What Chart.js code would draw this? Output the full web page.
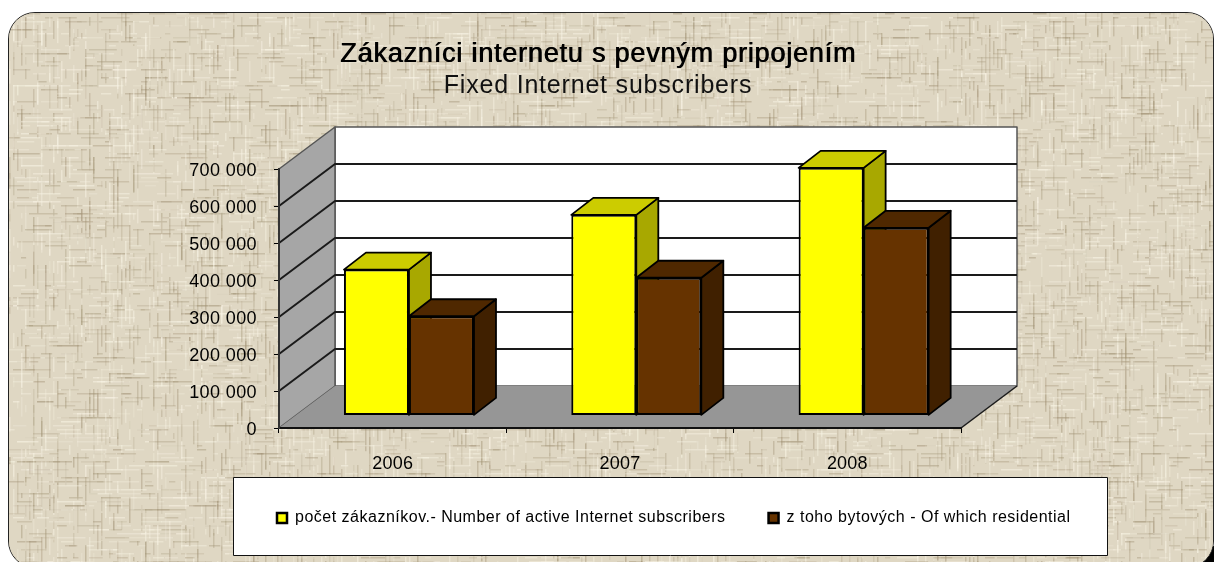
<!DOCTYPE html>
<html>
<head>
<meta charset="utf-8">
<title>Fixed Internet subscribers</title>
<script src="https://cdn.jsdelivr.net/npm/chart.js@4"></script>
<style>
html, body { margin: 0; padding: 0; background: #fff; overflow: hidden; }
#wrap { position: relative; width: 1214px; height: 562px; overflow: hidden; }
#corner { position: absolute; right: 0; bottom: 0; width: 16px; height: 16px; background: #000; }
#frame {
    position: absolute; left: 8px; top: 12px; width: 1206px; height: 556px;
    box-sizing: border-box; border: 1.5px solid #222; border-radius: 27px;
    background-color: #ddd4be; overflow: hidden;
}
#linen { position: absolute; left: 0; top: 0; filter: blur(0.7px); }
#chart { position: absolute; left: 0; top: 0; }
</style>
</head>
<body>
<div id="wrap">
    <div id="corner"></div>
    <div id="frame"><canvas id="linen" width="1206" height="556"></canvas></div>
    <canvas id="chart" width="1214" height="562"></canvas>
</div>
<script>
// ===== Data =====
const years = ['2006', '2007', '2008'];
const subscribers = [394000, 542000, 669000];
const residential = [268000, 372000, 507000];
const seriesNames = [
    'počet zákazníkov.- Number of active Internet subscribers',
    'z toho bytových - Of which residential',
];

const colors = {
    yellow: '#FFFF00', yellowTop: '#CCCC00', yellowSide: '#A8A800',
    brown: '#663300', brownTop: '#4F2800', brownSide: '#402000',
    wall: '#A6A6A6', floor: '#969696', edge: '#555555', line: '#1a1a1a',
};
const font = "'Liberation Sans', Arial, sans-serif";

// depth of the whole box and of one bar, in pixels
const boxDepth = { x: 56, y: -42 };
const barDepth = { x: 22, y: -17 };
const barShift = { x: 16.3, y: -12.6 };

// woven linen background, only decoration
function paintLinen() {
    const c = document.getElementById('linen');
    const g = c.getContext('2d');
    g.fillStyle = '#dfd7c3';
    g.fillRect(0, 0, c.width, c.height);
    let seed = 7;
    const next = () => (seed = (seed * 16807) % 2147483647) / 2147483647;
    for (let i = 0; i < 11000; i++) {
        const light = next() > 0.5;
        g.fillStyle = light
            ? `rgba(248,243,228,${0.2 + next() * 0.35})`
            : `rgba(160,145,115,${0.14 + next() * 0.3})`;
        const x = Math.floor(next() * 302) * 4, y = Math.floor(next() * 139) * 4;
        const len = 5 + next() * 24;
        if (next() > 0.5) g.fillRect(x, y, len, 1.5);
        else g.fillRect(x, y, 1.5, len);
    }
}
paintLinen();

function poly(ctx, pts, fill, stroke, width) {
    ctx.beginPath();
    pts.forEach((p, i) => i ? ctx.lineTo(p[0], p[1]) : ctx.moveTo(p[0], p[1]));
    ctx.closePath();
    if (fill) { ctx.fillStyle = fill; ctx.fill(); }
    if (stroke) { ctx.strokeStyle = stroke; ctx.lineWidth = width; ctx.lineJoin = 'round'; ctx.stroke(); }
}

// the reference text runs a bit wide, so let a draw call use letter spacing
function spaced(obj, method, px, bold) {
    const orig = obj[method];
    obj[method] = function (...args) {
        const c = this.ctx;
        c.save();
        c.letterSpacing = px + 'px';
        if (bold) { c.shadowColor = '#000'; c.shadowOffsetX = bold; }
        orig.apply(this, args);
        c.restore();
    };
}

// walls, floor and the grid that bends round the left wall
let wrapped = false;
const box3d = {
    id: 'box3d',
    afterLayout(chart) {
        chart.boxes.forEach(b => {
            if (b === chart.legend) {
                b.left = 234; b.right = 1200; b.top = 467;
            } else if (b.options && b.options.text) {
                b.left = 0; b.right = 1196;
            }
        });
        if (wrapped) return;
        wrapped = true;
        chart.boxes.forEach(b => {
            if (b === chart.legend) spaced(b, 'draw', 0.5);
            else if (b === chart.titleBlock) spaced(b, 'draw', 0.8, 0.8);
            else if (b.options && b.options.text) spaced(b, 'draw', 0.8);
        });
        spaced(chart.scales.y, 'drawLabels', 0.4);
        spaced(chart.scales.x, 'drawLabels', 0.2);
    },
    beforeDraw(chart) {
        const { ctx, chartArea: a, scales: { y } } = chart;
        const dx = boxDepth.x, dy = boxDepth.y;
        const y0 = y.getPixelForValue(0), yTop = y.getPixelForValue(y.max);
        ctx.save();
        poly(ctx, [[a.left + dx, yTop + dy], [a.right + dx, yTop + dy], [a.right + dx, y0 + dy], [a.left + dx, y0 + dy]], '#fff', colors.edge, 1.5);
        poly(ctx, [[a.left, yTop], [a.left + dx, yTop + dy], [a.left + dx, y0 + dy], [a.left, y0]], colors.wall, colors.edge, 1.5);
        poly(ctx, [[a.left, y0], [a.left + dx, y0 + dy], [a.right + dx, y0 + dy], [a.right, y0]], colors.floor);
        y.ticks.forEach(t => {
            if (t.value === 0 || t.value === y.max) return;
            const py = y.getPixelForValue(t.value);
            ctx.beginPath();
            ctx.moveTo(a.left, py);
            ctx.lineTo(a.left + dx, py + dy);
            ctx.lineTo(a.right + dx, py + dy);
            ctx.strokeStyle = colors.line;
            ctx.lineWidth = 2;
            ctx.stroke();
        });
        ctx.beginPath();
        ctx.moveTo(a.right, y0);
        ctx.lineTo(a.right + dx, y0 + dy);
        ctx.strokeStyle = colors.line;
        ctx.lineWidth = 1.5;
        ctx.stroke();

        // legend panel
        ctx.fillStyle = '#fff';
        ctx.strokeStyle = '#111';
        ctx.lineWidth = 1;
        ctx.fillRect(233.5, 477.5, 874, 78);
        ctx.strokeRect(233.5, 477.5, 874, 78);
        ctx.restore();
    },
    beforeDatasetsDraw(chart) {
        const { ctx } = chart;
        const tops = [colors.yellowTop, colors.brownTop];
        const sides = [colors.yellowSide, colors.brownSide];
        ctx.save();
        ctx.translate(barShift.x, barShift.y);
        [0, 1].forEach(ds => {
            chart.getDatasetMeta(ds).data.forEach(bar => {
                const l = bar.x - bar.width / 2, r = bar.x + bar.width / 2;
                const t = bar.y, b = bar.base;
                const dx = barDepth.x, dy = barDepth.y;
                poly(ctx, [[r, t], [r + dx, t + dy], [r + dx, b + dy], [r, b]], sides[ds], '#000', 1.8);
                poly(ctx, [[l, t], [l + dx, t + dy], [r + dx, t + dy], [r, t]], tops[ds], '#000', 1.8);
            });
        });
        // the fronts below are drawn by Chart.js in the same shifted frame
    },
    afterDatasetsDraw(chart) {
        chart.ctx.restore();
    },
};

new Chart(document.getElementById('chart'), {
    type: 'bar',
    data: {
        labels: years,
        datasets: [
            { label: seriesNames[0], data: subscribers, backgroundColor: colors.yellow, borderColor: '#000', borderWidth: 2, borderSkipped: false },
            { label: seriesNames[1], data: residential, backgroundColor: colors.brown, borderColor: '#000', borderWidth: 2, borderSkipped: false },
        ],
    },
    plugins: [box3d],
    options: {
        responsive: false,
        animation: false,
        events: [],
        categoryPercentage: 0.572,
        barPercentage: 1,
        layout: { padding: { left: 0, right: 253, top: 0, bottom: 0 } },
        plugins: {
            title: {
                display: true,
                text: 'Zákazníci internetu s pevným pripojením',
                color: '#000',
                font: { family: font, size: 27, weight: 'normal', lineHeight: 1.2 },
                padding: { top: 38, bottom: 0 },
            },
            subtitle: {
                display: true,
                text: 'Fixed Internet subscribers',
                color: '#111',
                font: { family: font, size: 25, weight: 'normal', lineHeight: 1.2 },
                padding: { top: 1, bottom: 67.6 },
            },
            legend: {
                display: true,
                position: 'bottom',
                align: 'start',
                labels: {
                    color: '#000',
                    font: { family: font, size: 16 },
                    boxWidth: 10,
                    boxHeight: 10,
                    padding: 43,
                    generateLabels(chart) {
                        return chart.data.datasets.map((d, i) => ({
                            text: d.label, fillStyle: d.backgroundColor,
                            strokeStyle: '#000', lineWidth: 2.5, datasetIndex: i,
                        }));
                    },
                },
            },
            tooltip: { enabled: false },
        },
        scales: {
            x: {
                afterFit(s) { s.height = 65; },
                grid: { drawOnChartArea: false, color: '#000', tickLength: 5, lineWidth: 1 },
                border: { color: '#111', width: 2 },
                ticks: { color: '#000', padding: 20, font: { family: font, size: 18 } },
            },
            y: {
                min: 0,
                max: 700000,
                afterFit(s) { s.width = 279; },
                grid: { drawOnChartArea: false, color: '#000', tickLength: 5, lineWidth: 1 },
                border: { color: '#333', width: 2 },
                ticks: {
                    color: '#000',
                    padding: 17,
                    labelOffset: 2,
                    stepSize: 100000,
                    font: { family: font, size: 18 },
                    callback: (value) => String(value).replace(/\B(?=(\d{3})+$)/g, ' '),
                },
            },
        },
    },
});
</script>
</body>
</html>
